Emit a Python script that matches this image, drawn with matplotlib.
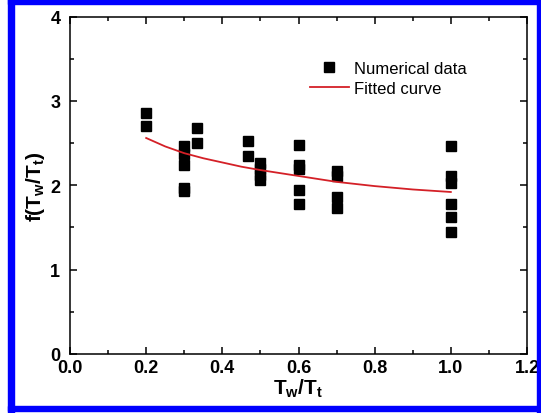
import matplotlib
matplotlib.use('Agg')
import matplotlib.pyplot as plt
from matplotlib.patches import Rectangle
from matplotlib.ticker import MultipleLocator, FormatStrFormatter

plt.rcParams['font.family'] = ['Liberation Sans', 'DejaVu Sans']
plt.rcParams['font.weight'] = 'bold'
plt.rcParams['mathtext.fontset'] = 'custom'
plt.rcParams['mathtext.bf'] = 'Liberation Sans:bold'
plt.rcParams['mathtext.rm'] = 'Liberation Sans:bold'
plt.rcParams['mathtext.it'] = 'Liberation Sans:bold'
plt.rcParams['mathtext.default'] = 'bf'

# numerical data
x_data = [0.2, 0.2,
          0.3, 0.3, 0.3, 0.3, 0.3,
          1/3, 1/3,
          0.467, 0.467,
          0.5, 0.5, 0.5, 0.5,
          0.6, 0.6, 0.6, 0.6, 0.6,
          0.7, 0.7, 0.7, 0.7,
          1.0, 1.0, 1.0, 1.0, 1.0, 1.0]
y_data = [2.86, 2.70,
          2.46, 2.37, 2.24, 1.97, 1.93,
          2.68, 2.50,
          2.53, 2.35,
          2.26, 2.19, 2.12, 2.06,
          2.48, 2.24, 2.19, 1.94, 1.78,
          2.17, 2.11, 1.86, 1.73,
          2.46, 2.11, 2.03, 1.78, 1.62, 1.45]

# fitted curve
x_fit = [0.2, 0.25, 0.3, 0.35, 0.4, 0.45, 0.5, 0.6, 0.7, 0.8, 0.9, 1.0]
y_fit = [2.56, 2.46, 2.38, 2.32, 2.27, 2.22, 2.18, 2.11, 2.04, 1.99, 1.95, 1.92]

fig = plt.figure(figsize=(5.41, 4.14), dpi=100)
ax = fig.add_axes([70/541, 1 - 355/414, 457/541, (355 - 17.5)/414])

ax.plot(x_data, y_data, 's', color='black', markersize=6.5, label='Numerical data')
ax.plot(x_fit, y_fit, '-', color='#d42027', lw=1.3, label='Fitted curve')

ax.set_xlim(0, 1.2)
ax.set_ylim(0, 4)
ax.xaxis.set_major_locator(MultipleLocator(0.2))
ax.xaxis.set_minor_locator(MultipleLocator(0.1))
ax.yaxis.set_major_locator(MultipleLocator(1))
ax.yaxis.set_minor_locator(MultipleLocator(0.5))
ax.xaxis.set_major_formatter(FormatStrFormatter('%.1f'))
ax.yaxis.set_major_formatter(FormatStrFormatter('%d'))
ax.tick_params(which='both', direction='in', top=True, right=True, width=1.1,
               labelsize=13)
ax.tick_params(axis='x', pad=3.5)
ax.tick_params(axis='y', pad=7)
ax.tick_params(which='major', length=5)
ax.tick_params(which='minor', length=3)
for s in ax.spines.values():
    s.set_linewidth(1.1)

ax.set_xlabel(r'$T_w/T_t$', fontsize=15, labelpad=0.5)
ax.set_ylabel(r'$f(T_w/T_t)$', fontsize=15, labelpad=2)

ax.legend(loc='upper left', bbox_to_anchor=(0.493, 0.913), frameon=False,
          numpoints=1, handlelength=2.3, handletextpad=0.35,
          prop={'size': 12, 'weight': 'normal'}, labelspacing=0.3)

# blue frame around the image
blue = '#0000ff'
fig.patches.append(Rectangle((8/541, 0), 6/541, 1, transform=fig.transFigure, color=blue, zorder=10))
fig.patches.append(Rectangle((8/541, 1 - 5/414), 1, 5/414, transform=fig.transFigure, color=blue, zorder=10))
fig.patches.append(Rectangle((537/541, 0), 4/541, 1, transform=fig.transFigure, color=blue, zorder=10))
fig.patches.append(Rectangle((8/541, 2/414), 1, 5/414, transform=fig.transFigure, color=blue, zorder=10))

fig.savefig('out.png', dpi=100)
